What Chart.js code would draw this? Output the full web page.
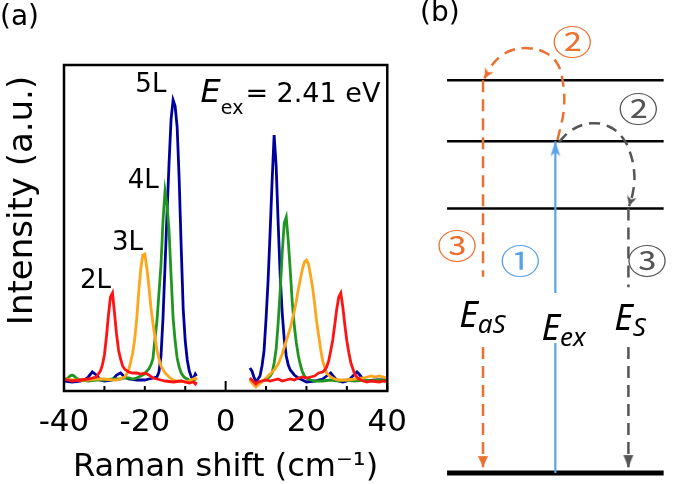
<!DOCTYPE html>
<html>
<head>
<meta charset="utf-8">
<script src="https://cdn.jsdelivr.net/npm/chart.js@4.4.1/dist/chart.umd.min.js"></script>
<style>
  html, body { margin: 0; padding: 0; background: #fff; }
  #wrap { position: relative; width: 675px; height: 484px; overflow: hidden; }
  #chartA { position: absolute; left: 0; top: 0; }
  #chartB { position: absolute; left: 420px; top: 0; }
  .tag { position: absolute; font: 28px "DejaVu Sans", sans-serif; color: #000; line-height: 1; }
</style>
</head>
<body>
<div id="wrap">
  <canvas id="chartA" width="420" height="484"></canvas>
  <canvas id="chartB" width="255" height="484"></canvas>
  <div class="tag" style="left:0;top:2px">(a)</div>
  <div class="tag" style="left:420px;top:-2px">(b)</div>
</div>
<script>
// ---- (a) low-frequency Raman spectra, anti-Stokes (<0) and Stokes (>0) ----
const blue5L_asX = [-40, -38, -36, -35, -34, -33, -32, -31, -30, -28, -27, -26, -25, -24, -22, -20, -19, -18, -17, -16.5, -16, -15.5, -15, -14.5, -14, -13.5, -13, -12.5, -12, -11.5, -11, -10.5, -10, -9.5, -9, -8.5, -8, -7.5, -7.2];
const blue5L_asY = [0, -1, 0, 1, 4, 9, 6, 1, 0, 1, 6, 8, 4, 2, 1, 1, 2, 3, 4, 9, 25, 63, 115, 168, 218, 262, 281, 275, 254, 202, 134, 72, 40, 21, 10, 4, 2, 7, 5];
const blue5L_stX = [6, 6.5, 7, 7.5, 8, 8.5, 9, 9.5, 10, 10.5, 11, 11.5, 12, 12.5, 13, 13.5, 14, 14.5, 15, 15.5, 16, 17, 18, 19, 20, 22, 24, 25, 26, 27, 28, 29, 30, 31, 32, 32.5, 33, 34, 35, 37, 40];
const blue5L_stY = [13, 10, 4, -1, 2, 5, 15, 30, 62, 100, 148, 200, 246, 215, 158, 105, 68, 42, 25, 16, 11, 6, 3, 1, -1, 0, 2, 5, 8, 3, 0, -1, 0, 3, 7, 9, 7, 2, 0, 1, 1];

const green4L_asX = [-40, -39, -38.5, -38, -37.5, -37, -36, -34, -32, -30, -28, -26, -25, -24, -23, -22, -21, -20, -19.5, -19, -18.5, -18, -17.5, -17, -16.5, -16, -15.5, -15, -14.5, -14, -13.5, -13, -12.5, -12, -11.5, -11, -10.5, -10, -9, -8, -7.5, -7.2];
const green4L_asY = [1, 3, 5, 6, 5, 3, 1, 0, 1, 1, 2, 2, 3, 3, 2, 3, 5, 7, 10, 12, 16, 22, 42, 60, 88, 116, 160, 190, 176, 150, 105, 63, 40, 23, 14, 8, 5, 3, 1, 0, 2, 1];
const green4L_stX = [6, 7, 7.5, 8, 9, 10, 10.5, 11, 11.5, 12, 12.5, 13, 13.5, 14, 14.5, 15, 15.5, 16, 16.5, 17, 17.5, 18, 18.5, 19, 19.5, 20, 21, 22, 24, 26, 28, 30, 32, 34, 36, 38, 40];
const green4L_stY = [2, -3, -4, -2, 0, 1, 3, 5, 8, 18, 32, 58, 90, 128, 158, 164, 140, 110, 78, 55, 38, 25, 16, 9, 5, 3, 1, 0, 0, 1, 0, 1, 0, 1, 0, 1, 0];

const orange3L_asX = [-40, -38, -36, -34, -32, -30, -28, -27, -26, -25, -24.5, -24, -23.5, -23, -22.5, -22, -21.5, -21, -20.5, -20, -19.5, -19, -18.5, -18, -17.5, -17, -16.5, -16, -15, -14, -13, -12, -11, -10, -9, -8, -7.5, -7.2];
const orange3L_asY = [2, 1, 1, 1, 2, 2, 1, 1, 2, 4, 7, 11, 19, 28, 42, 62, 90, 112, 126, 127, 113, 95, 74, 58, 44, 31, 22, 15, 8, 4, 1, 0, 0, -1, 0, 2, 3, 1];
const orange3L_stX = [6, 7, 7.5, 8, 9, 10, 11, 12, 13, 14, 15, 16, 17, 17.5, 18, 18.5, 19, 19.5, 20, 20.5, 21, 21.5, 22, 22.5, 23, 23.5, 24, 24.5, 25, 26, 27, 28, 30, 32, 34, 35, 36, 37, 38, 39, 40];
const orange3L_stY = [1, -4, -6, -4, -1, 3, 7, 11, 17, 27, 40, 53, 70, 80, 92, 102, 112, 119, 121, 117, 106, 94, 78, 60, 46, 32, 20, 14, 8, 4, 2, 1, 1, 2, 3, 4, 5, 4, 5, 4, 3];

const red2L_asX = [-40, -39, -38, -36, -34, -33, -32, -31.5, -31, -30.5, -30, -29.5, -29, -28.5, -28, -27.5, -27, -26.5, -26, -25.5, -25, -24, -23, -22, -21, -20, -19, -18, -17, -16, -15, -13, -11, -9, -8, -7.5, -7.2];
const red2L_asY = [2, 1, 0, 1, 2, 3, 4, 7, 10, 16, 26, 44, 66, 84, 88, 68, 47, 31, 22, 15, 12, 9, 8, 8, 7, 8, 6, 3, 2, 1, 0, -1, 0, -2, -1, -3, -1];
const red2L_stX = [6, 7, 7.5, 8, 9, 10, 11, 12, 13, 14, 15, 16, 17, 18, 19, 20, 21, 22, 23, 24, 24.5, 25, 25.5, 26, 26.5, 27, 27.5, 28, 28.5, 29, 29.5, 30, 30.5, 31, 31.5, 32, 33, 34, 35, 36, 38, 39, 40];
const red2L_stY = [3, -1, -3, -1, 0, 1, 0, 1, 2, 0, 1, 2, 1, 3, 4, 3, 4, 5, 8, 9, 11, 14, 20, 30, 41, 56, 72, 84, 88, 74, 56, 40, 28, 18, 12, 6, 2, 0, -1, 0, -1, 0, -1];

const layerNames = ['5L', '4L', '3L', '2L'];
const layerLabelX = [-18.5, -20.4, -24.3, -32.2];
const layerLabelY = [296, 200, 138, 100];
const xTickStep = 10;

// ---- (b) energy diagram (arbitrary energy units) ----
const levelE = [0, 5.88, 7.37, 8.73];
const levelSpan = [0.78, 9.88];
const exX = 5.33, exY = [0, 2.89, null, 4.0, 7.37];          // excitation (1)
const asX = 2.29, asY = [8.73, 4.36, null, 2.8, 0.13];       // anti-Stokes emission (3)
const stX = 8.40, stY = [5.88, 4.13, null, 2.8, 0.13];       // Stokes emission (3)
const asArcX = [5.42, 5.69, 5.62, 5.36, 4.84, 4.18, 3.53, 3.01, 2.62, 2.35];
const asArcY = [7.40, 8.10, 8.77, 9.14, 9.36, 9.44, 9.40, 9.25, 9.03, 8.77];
const stArcX = [5.49, 6.01, 6.80, 7.58, 8.17, 8.50, 8.65, 8.59, 8.43];
const stArcY = [7.36, 7.62, 7.77, 7.70, 7.44, 7.07, 6.62, 6.24, 5.93];
const stepMarks = ['②', '②', '③', '①', '③'];
const stepX = [6.04, 8.82, 1.20, 3.86, 9.18];
const stepY = [9.57, 8.09, 5.05, 4.70, 4.72];
const eSubs = ['aS', 'ex', 'S'];
const eLabelX = [1.29, 4.75, 7.80];
const eLabelY = [3.24, 2.96, 3.18];

const ORANGE = '#ea7130';
const GRAY = '#555555';
const BLUE = '#5aa2e8';

Chart.defaults.font.family = '"DejaVu Sans", sans-serif';
Chart.defaults.color = '#000';

function side(xs, ys) {
  return xs.map((x, i) => ({ x, y: ys[i] }));
}
function spectrum(asX_, asY_, stX_, stY_) {
  return [...side(asX_, asY_), { x: 0, y: null }, ...side(stX_, stY_)];
}

const specSets = [
  { label: '2L', data: spectrum(red2L_asX, red2L_asY, red2L_stX, red2L_stY), borderColor: '#ff1414' },
  { label: '3L', data: spectrum(orange3L_asX, orange3L_asY, orange3L_stX, orange3L_stY), borderColor: '#ffa51c' },
  { label: '4L', data: spectrum(green4L_asX, green4L_asY, green4L_stX, green4L_stY), borderColor: '#1f961f' },
  { label: '5L', data: spectrum(blue5L_asX, blue5L_asY, blue5L_stX, blue5L_stY), borderColor: '#00009c' },
].map(d => ({ ...d, borderWidth: 2.8, pointRadius: 0, tension: 0, spanGaps: false, fill: false }));

const frameTicks = {
  id: 'frameTicks',
  afterDraw(chart) {
    const { ctx, chartArea: a, scales: { x } } = chart;
    ctx.save();
    ctx.strokeStyle = '#000';
    ctx.lineWidth = 2;
    for (const t of x.ticks) {
      const px = x.getPixelForValue(t.value);
      const len = t.value === 0 ? 10 : 5;
      ctx.beginPath();
      ctx.moveTo(px, a.bottom);
      ctx.lineTo(px, a.bottom - len);
      ctx.stroke();
    }
    ctx.lineWidth = 2.5;
    ctx.strokeRect(a.left, a.top, a.right - a.left, a.bottom - a.top);
    ctx.restore();
  }
};

const specLabels = {
  id: 'specLabels',
  afterDraw(chart) {
    const { ctx, scales: { x, y } } = chart;
    ctx.save();
    ctx.fillStyle = '#000';
    ctx.textAlign = 'center';
    ctx.textBaseline = 'middle';
    ctx.font = '26px "DejaVu Sans", sans-serif';
    layerNames.forEach((n, i) => {
      ctx.fillText(n, x.getPixelForValue(layerLabelX[i]), y.getPixelForValue(layerLabelY[i]));
    });
    // E_ex = 2.41 eV
    ctx.textAlign = 'left';
    ctx.textBaseline = 'alphabetic';
    let px = x.getPixelForValue(-6.2);
    const py = y.getPixelForValue(279);
    ctx.font = 'italic 32px "DejaVu Sans", sans-serif';
    ctx.fillText('E', px, py);
    px += ctx.measureText('E').width;
    ctx.font = '19px "DejaVu Sans", sans-serif';
    ctx.fillText('ex', px, py + 12);
    px += ctx.measureText('ex').width + 2;
    ctx.font = '27px "DejaVu Sans", sans-serif';
    ctx.fillText('= 2.41 eV', px, py);
    ctx.restore();
  }
};

new Chart(document.getElementById('chartA'), {
  type: 'line',
  data: { datasets: specSets },
  options: {
    responsive: false,
    animation: false,
    devicePixelRatio: 1,
    events: [],
    layout: { padding: { top: 65, right: 29, left: 0, bottom: 0 } },
    plugins: { legend: { display: false }, tooltip: { enabled: false } },
    scales: {
      x: {
        type: 'linear',
        min: -40,
        max: 40,
        grid: { display: false, drawTicks: false },
        border: { display: false },
        ticks: {
          stepSize: xTickStep,
          autoSkip: false,
          maxRotation: 0,
          padding: 13,
          font: { size: 31 },
          color: '#000',
          callback: v => (v % 20 === 0 ? String(v) : '')
        },
        title: { display: true, text: 'Raman shift (cm⁻¹)', font: { size: 32 }, color: '#000', padding: { top: 0, bottom: -3 } },
        afterFit: s => { s.height = 93; }
      },
      y: {
        min: -10,
        max: 316,
        grid: { display: false, drawTicks: false },
        border: { display: false },
        ticks: { display: false },
        title: { display: true, text: 'Intensity (a.u.) ', align: 'end', font: { size: 34 }, color: '#000', padding: { top: 3, bottom: 0 } },
        afterFit: s => { s.width = 64; }
      }
    }
  },
  plugins: [frameTicks, specLabels]
});

// ---- panel (b) ----
function arrowHead(color, len, half, notch) {
  const size = Math.ceil(len * 2 + 4);
  const c = document.createElement('canvas');
  c.width = size;
  c.height = size;
  const g = c.getContext('2d');
  const m = size / 2;
  g.fillStyle = color;
  g.beginPath();
  g.moveTo(m, m);
  g.lineTo(m + half, m + len);
  g.lineTo(m, m + len - notch);
  g.lineTo(m - half, m + len);
  g.closePath();
  g.fill();
  return c;
}

function pathSet(points, color, width, dash, tension, head, headRot) {
  const last = points.length - 1;
  return {
    data: points,
    showLine: true,
    borderColor: color,
    borderWidth: width,
    borderDash: dash,
    tension,
    spanGaps: false,
    pointRadius: ctx => (head && ctx.dataIndex === last ? 6 : 0),
    pointStyle: head || 'circle',
    pointRotation: headRot || 0,
    clip: false
  };
}

const vertical = (x, ys) => ys.map(y => ({ x, y }));
const levelSets = levelE.map((e, i) => pathSet(levelSpan.map(x => ({ x, y: e })), '#000', i === 0 ? 5 : 2.5, [], 0));

const diagramSets = [
  pathSet(vertical(exX, exY), BLUE, 2.2, [], 0, arrowHead(BLUE, 15, 5, 4), 0),
  pathSet(side(asArcX, asArcY), ORANGE, 2.5, [11, 7], 0.4, arrowHead(ORANGE, 10, 5, 3), 210),
  pathSet(side(stArcX, stArcY), GRAY, 2.5, [11, 7], 0.4, arrowHead(GRAY, 10, 5, 3), 196),
  pathSet(vertical(asX, asY), ORANGE, 2.5, [12, 7], 0, arrowHead(ORANGE, 11, 5, 0), 180),
  pathSet(vertical(stX, stY), GRAY, 2.5, [12, 7], 0, arrowHead(GRAY, 12, 5, 0), 180),
  ...levelSets
];

const diagramText = {
  id: 'diagramText',
  afterDatasetsDraw(chart) {
    const { ctx, scales: { x, y } } = chart;
    ctx.save();
    ctx.textAlign = 'center';
    ctx.textBaseline = 'middle';
    ctx.font = '34px "Noto Sans CJK JP", "DejaVu Sans", sans-serif';
    stepMarks.forEach((m, i) => {
      ctx.save();
      ctx.translate(x.getPixelForValue(stepX[i]), y.getPixelForValue(stepY[i]));
      ctx.scale(1.18, 1);
      ctx.fillStyle = i === 3 ? BLUE : (i === 0 || i === 2 ? ORANGE : GRAY);
      ctx.fillText(m, 0, 0);
      ctx.restore();
    });
    ctx.textAlign = 'left';
    ctx.textBaseline = 'alphabetic';
    ctx.fillStyle = '#000';
    eSubs.forEach((sub, i) => {
      const px = x.getPixelForValue(eLabelX[i]);
      const py = y.getPixelForValue(eLabelY[i]);
      ctx.font = 'italic 36px "Noto Sans", sans-serif';
      ctx.fillText('E', px, py);
      const w = ctx.measureText('E').width;
      ctx.font = 'italic 26px "Noto Sans", sans-serif';
      ctx.fillText(sub, px + w, py + 6);
    });
    ctx.restore();
  }
};

new Chart(document.getElementById('chartB'), {
  type: 'scatter',
  data: { datasets: diagramSets },
  options: {
    responsive: false,
    animation: false,
    devicePixelRatio: 1,
    events: [],
    layout: { padding: { top: 23, bottom: 11, left: 0, right: 0 } },
    plugins: { legend: { display: false }, tooltip: { enabled: false } },
    scales: {
      x: { type: 'linear', min: 0, max: 10, display: false },
      y: { type: 'linear', min: 0, max: 10, display: false }
    }
  },
  plugins: [diagramText]
});
</script>
</body>
</html>
